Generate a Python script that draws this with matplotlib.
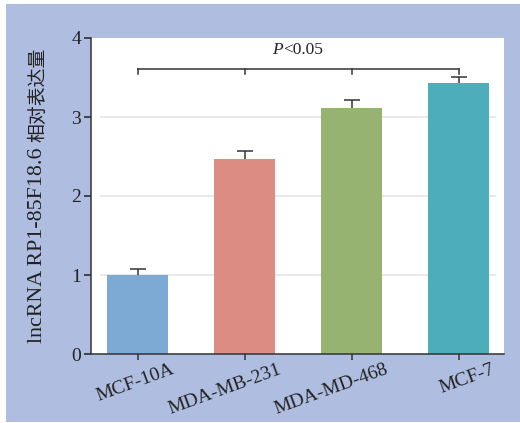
import numpy as np
import matplotlib.pyplot as plt
from matplotlib.patches import Rectangle

# data
cell_lines = ["MCF-10A", "MDA-MB-231", "MDA-MD-468", "MCF-7"]
expression = [1.00, 2.47, 3.12, 3.43]
errors = [0.08, 0.10, 0.10, 0.07]
bar_colors = ["#7DA9D5", "#DC8C82", "#97B371", "#4DADBA"]
y_ticks = [0, 1, 2, 3, 4]
bracket_y = 3.61
p_text = "<0.05"
ylabel_latin = "lncRNA RP1-85F18.6 "
ylabel_cjk = "相对表达量"

serif = ["Liberation Serif", "Noto Sans CJK SC"]
plt.rcParams["font.family"] = serif

fig = plt.figure(figsize=(5.2, 4.23), dpi=100, facecolor="white")
# blue backdrop panel
fig.add_artist(Rectangle((6 / 520, 1 / 423), 514 / 520, 418 / 423,
                         transform=fig.transFigure, facecolor="#AEBDE0",
                         edgecolor="none", zorder=-10))

ax = fig.add_axes([91 / 520, 69 / 423, 413 / 520, 316 / 423])
ax.set_facecolor("white")
ax.set_zorder(5)

x = np.arange(len(cell_lines))
for yv in y_ticks[1:4]:
    ax.axhline(yv, xmin=0.024, xmax=0.978, color="#E4E4E4", lw=1.2, zorder=1)

ax.bar(x, expression, width=0.57, color=bar_colors, zorder=2)
eb = ax.errorbar(x, expression, yerr=[np.zeros(len(errors)), errors], fmt="none",
                 ecolor="#333333", elinewidth=1.1, capsize=5.5, capthick=1.1, zorder=3)
# only the upper cap is shown
eb[1][0].set_visible(False)

# significance bracket
ax.plot([x[0], x[-1]], [bracket_y, bracket_y], color="#333333", lw=1.1)
for xi in x:
    ax.plot([xi, xi], [bracket_y, bracket_y - 0.06], color="#333333", lw=1.1)
p_lab = ax.text(1.257, 3.85, "P", style="italic", ha="left", va="center",
                fontsize=12.5, color="#222222")
ax.annotate(p_text, xy=(1, 0.5), xycoords=p_lab, ha="left", va="center",
            fontsize=12.5, color="#222222")

ax.set_xlim(-0.435, 3.425)
ax.set_ylim(0, 4)
ax.set_yticks(y_ticks)
ax.set_xticks(x)
ax.set_xticklabels([])
# category labels, shifted right of their ticks like the original
for xi, name in zip(x, cell_lines):
    ax.annotate(name, xy=(xi, 0), xycoords=("data", "axes fraction"),
                xytext=(33 * 0.72, -5), textcoords="offset points",
                rotation=20, ha="right", va="top", rotation_mode="anchor",
                fontsize=14, color="#222222", annotation_clip=False)
ax.tick_params(axis="y", labelsize=14, colors="#222222", length=5, width=1.1, pad=2)
ax.tick_params(axis="x", length=4, width=1.1, colors="#333333")
for s in ["top", "right"]:
    ax.spines[s].set_visible(False)
for s in ["left", "bottom"]:
    ax.spines[s].set_color("#333333")
    ax.spines[s].set_linewidth(1.1)

# y label: latin part then the Chinese part stacked above it
yl = fig.text(38 / 520, 80 / 423, ylabel_latin, rotation=90, ha="center",
              va="bottom", fontsize=15.8, color="#222222")
ax.annotate(ylabel_cjk, xy=(0.5, 1), xycoords=yl, rotation=90, ha="center",
            va="bottom", fontsize=13.6, color="#222222", annotation_clip=False)

fig.savefig("out.png", dpi=100, facecolor="white")
